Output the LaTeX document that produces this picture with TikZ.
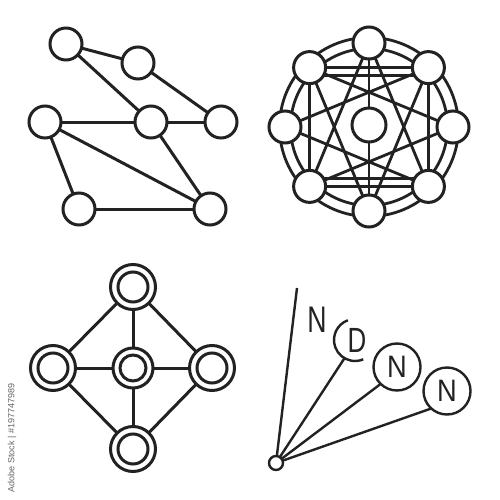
\documentclass[tikz,border=0pt]{standalone}
\usepackage{fontspec}
\setmainfont{Liberation Sans}
\usetikzlibrary{calc}
\definecolor{ink}{HTML}{222222}
\begin{document}
\begin{tikzpicture}[x=1pt,y=-1pt,
  every node/.style={inner sep=0pt,outer sep=0pt},
  nd/.style={circle,draw=ink,fill=white,line width=3pt,minimum size=32pt},
  ring/.style={circle,draw=ink,fill=white,line width=3pt,minimum size=45pt},
  cring/.style={circle,draw=ink,fill=white,line width=3pt,minimum size=40pt},
  edge/.style={draw=ink,line width=3pt},
  sedge/.style={draw=ink,line width=2.8pt},
  fedge/.style={draw=ink,line width=2.4pt},
  lbl/.style={text=ink}]
\useasboundingbox (0,0) rectangle (500,500);
\fill[white] (0,0) rectangle (500,500);

% ---------- panel 1 ----------
\node[nd] (a) at (66,44) {};
\node[nd] (b) at (138,63) {};
\node[nd] (c) at (45,122) {};
\node[nd] (d) at (151,122) {};
\node[nd] (e) at (221,122) {};
\node[nd] (f) at (79,209) {};
\node[nd] (g) at (210,209) {};
\foreach \u/\v in {a/b,a/d,b/e,c/d,d/e,c/f,c/g,d/g,f/g}
  \path[edge] (\u) -- (\v);

% ---------- panel 2 ----------
\coordinate (o2) at (369,127);
\draw[ink,line width=2.8pt] (o2) circle[radius=78.5];
\draw[ink,line width=2.8pt] (o2) circle[radius=89.5];
\foreach \k in {0,...,7}
  \node[nd] (p\k) at ($(o2)+({-90+45*\k}:84)$) {};
\node[nd,minimum size=34pt] (pc) at (369,125) {};
\foreach \k in {0,...,7}{
  \pgfmathtruncatemacro{\j}{mod(\k+3,8)}
  \path[sedge] (p\k) -- (p\j);
}
\path[sedge] (p0) -- (pc);
\path[sedge] (pc) -- (p4);
\path[sedge] (p7) -- (p1);
\path[sedge] (p7.-30) -- (p1.210);
\path[sedge] (p7) -- (p5);
\path[sedge] (p1) -- (p3);
\path[sedge] (p5) -- (p3);
\path[sedge] (p5.30) -- (p3.150);

% ---------- panel 3 ----------
\node[ring] (t) at (133,287) {};
\node[ring] (l) at (53,368) {};
\node[cring] (m) at (133,368) {};
\node[ring] (r) at (212,368) {};
\node[ring] (bt) at (133,449) {};
\foreach \n in {t,l,r,bt}
  \draw[ink,line width=3pt] (\n) circle[radius=15];
\draw[ink,line width=3pt] (m) circle[radius=13];
\foreach \u/\v in {t/l,t/r,bt/l,bt/r,t/m,l/m,r/m,bt/m}
  \path[edge] (\u) -- (\v);

% ---------- panel 4 ----------
\node[circle,draw=ink,line width=2.4pt,minimum size=14pt] (o4) at (276,463) {};
\coordinate (fr) at (297,288);
\node[lbl] (n1) at (317,320) {\fontsize{37}{37}\selectfont\scalebox{0.72}[1]{N}};
\coordinate (dc) at (355,340);
\node[lbl] (dd) at (357,340) {\fontsize{35}{35}\selectfont\scalebox{0.74}[1]{D}};
\draw[ink,line width=2.4pt] (dc) ++(-110:21) arc[start angle=-110,end angle=-293,radius=21];
\path (dc) ++(120:21) coordinate (dl);
\node[circle,draw=ink,line width=2.4pt,minimum size=47pt,text=ink] (n2) at (397,367)
  {\fontsize{31}{31}\selectfont\scalebox{0.88}[1]{N}};
\node[circle,draw=ink,line width=2.4pt,minimum size=47pt,text=ink] (n3) at (447,391)
  {\fontsize{31}{31}\selectfont\scalebox{0.88}[1]{N}};
\path[fedge] (o4) -- (fr);
\path[fedge] (o4) -- (dl);
\path[fedge] (o4) -- (n2.226);
\path[fedge] (o4) -- (n3.228);

% ---------- credit ----------
\node[text=black!60,rotate=90] (cr) at (12,438) {\fontsize{9}{9}\selectfont Adobe Stock | \#197747989};
\end{tikzpicture}
\end{document}
